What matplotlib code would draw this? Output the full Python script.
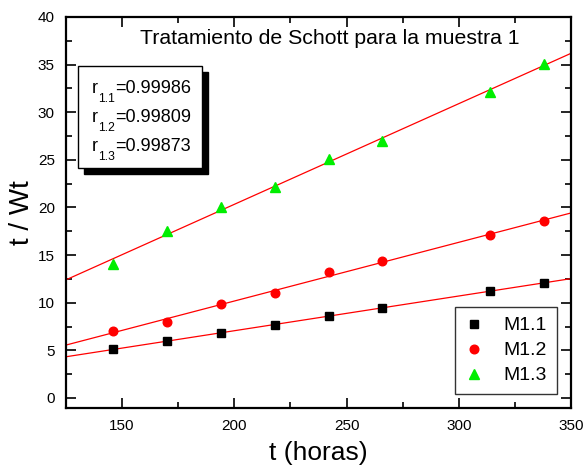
import numpy as np
import matplotlib
matplotlib.use("Agg")
import matplotlib.pyplot as plt
from matplotlib.patches import Rectangle

plt.rcParams['font.family'] = ['Liberation Sans', 'DejaVu Sans']

t_horas = [146, 170, 194, 218, 242, 266, 314, 338]
m11 = [5.1, 6.0, 6.8, 7.7, 8.6, 9.5, 11.2, 12.1]
m12 = [7.0, 8.0, 9.9, 11.0, 13.2, 14.4, 17.1, 18.6]
m13 = [14.1, 17.5, 20.1, 22.1, 25.1, 27.0, 32.1, 35.1]
labels = ["M1.1", "M1.2", "M1.3"]
r_values = ["0.99986", "0.99809", "0.99873"]
r_names = ["1.1", "1.2", "1.3"]

W, H = 585, 467
fig = plt.figure(figsize=(W / 100, H / 100), dpi=100)
ax = fig.add_axes([66 / W, 1 - 408 / H, (571 - 66) / W, (408 - 17) / H])

def fx(px): return px / W
def fy(py): return 1 - py / H

x = np.array(t_horas, dtype=float)
xfit = np.array([125, 350], dtype=float)
for ys in (m11, m12, m13):
    p = np.polyfit(x, ys, 1)
    ax.plot(xfit, np.polyval(p, xfit), color='red', lw=0.9, zorder=2)

ax.plot(x, m11, 's', color='black', ms=5.5, label=labels[0], zorder=3, ls='none')
ax.plot(x, m12, 'o', color='red', ms=6.2, label=labels[1], zorder=3, ls='none')
ax.plot(x, m13, '^', color='#00ee00', ms=7.4, label=labels[2], zorder=3, ls='none')

ax.set_xlim(125, 350)
ax.set_ylim(-1.05, 40)
ax.set_xticks([150, 200, 250, 300, 350])
ax.set_xticks([175, 225, 275, 325], minor=True)
ax.set_yticks(np.arange(0, 41, 5))
ax.set_yticks(np.arange(2.5, 40, 5), minor=True)
ax.tick_params(which='both', direction='in', top=True, right=True, labelsize=11, width=1.2)
ax.tick_params(which='major', length=7)
ax.tick_params(which='minor', length=4)
ax.tick_params(axis='x', which='major', pad=8)
ax.tick_params(axis='y', which='major', pad=8)
for s in ax.spines.values():
    s.set_linewidth(1.6)

ax.set_xlabel("t (horas)", fontsize=19, labelpad=6)
ax.set_ylabel("t / Wt", fontsize=20, labelpad=2)

ax.text(0.523, 0.945, "Tratamiento de Schott para la muestra 1", transform=ax.transAxes,
        ha='center', va='center', fontsize=15.3)

# r box with shadow
bx0, by0, bx1, by1 = 78, 66, 202, 168
shadow = Rectangle((fx(bx0 + 6), fy(by1 + 6)), fx(bx1 - bx0), (by1 - by0) / H,
                   transform=fig.transFigure, facecolor='black', edgecolor='black', zorder=5)
box = Rectangle((fx(bx0), fy(by1)), fx(bx1 - bx0), (by1 - by0) / H,
                transform=fig.transFigure, facecolor='white', edgecolor='black', lw=1, zorder=6)
fig.patches.extend([shadow, box])

renderer = fig.canvas.get_renderer()
baselines = [93, 122, 151]
for bl, n, v in zip(baselines, r_names, r_values):
    xp = 92
    t1 = fig.text(fx(xp), fy(bl), "r", ha='left', va='baseline', fontsize=13, zorder=7)
    xp += t1.get_window_extent(renderer).width
    t2 = fig.text(fx(xp), fy(bl + 9), n, ha='left', va='baseline', fontsize=8.7, zorder=7)
    xp += t2.get_window_extent(renderer).width
    fig.text(fx(xp), fy(bl), "=" + v, ha='left', va='baseline', fontsize=13, zorder=7)

leg = ax.legend(loc='upper left',
                bbox_to_anchor=((455 - 66) / (571 - 66), (408 - 307) / (408 - 17)),
                fontsize=14, frameon=True, fancybox=False, edgecolor='black',
                borderpad=0.5, borderaxespad=0, handlelength=1.0, handletextpad=1.0,
                labelspacing=0.38, markerscale=1.0)
leg.get_frame().set_linewidth(1.0)

fig.savefig("out.png", dpi=100)
